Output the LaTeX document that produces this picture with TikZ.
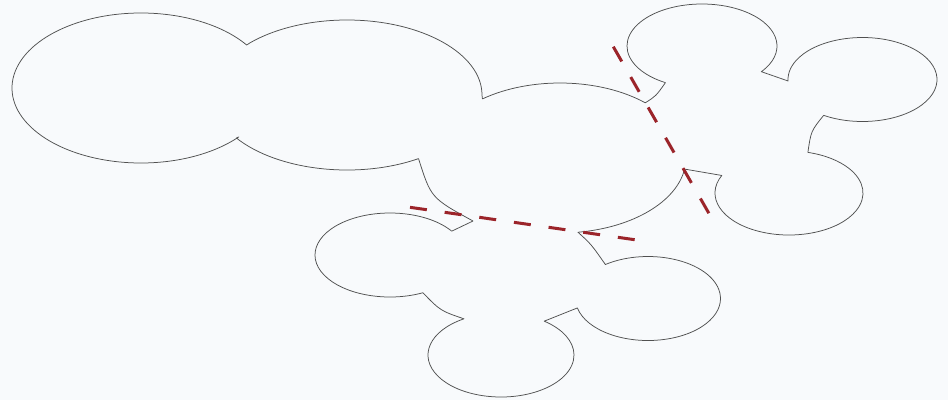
\documentclass[tikz,border=0pt]{standalone}
\usetikzlibrary{calc}
\definecolor{paper}{RGB}{248,250,252}
\definecolor{cutred}{RGB}{155,36,42}
\definecolor{rimgray}{RGB}{80,80,80}
\begin{document}
\begin{tikzpicture}[
        x=1pt, y=1pt,
        outline/.style={draw=rimgray, line width=0.75pt, line join=round},
        cutline/.style={draw=cutred, line width=3pt,
            dash pattern=on 17pt off 18pt}
      ]
      \fill[paper] (0,0) rectangle (948,-400);
      \useasboundingbox (0,0) rectangle (948,-400);
      % lobe centres
      \coordinate (bigleft) at (141,-88);
      \coordinate (bigmid) at (347,-95);
      \coordinate (core) at (560,-158);
      \coordinate (lowwest) at (390,-255);
      \coordinate (lowsouth) at (501,-355);
      \coordinate (loweast) at (648,-298.5);
      \coordinate (eastsouth) at (789,-193);
      \coordinate (easteast) at (862.5,-79.5);
      \coordinate (eastnorth) at (702,-46);
      % outline of the whole region
      \draw[outline] ($(bigleft)+(35:129 and 75)$)
        arc[start angle=35, end angle=319.3, x radius=129, y radius=75]
        -- ($(bigmid)+(215:135 and 75)$)
        arc[start angle=215, end angle=302, x radius=135, y radius=75]
        .. controls (431,-198) .. (473,-221)
        -- ($(lowwest)+(34.6:75 and 42)$)
        arc[start angle=34.6, end angle=296, x radius=75, y radius=42]
        .. controls (440.5,-310.8) .. ($(lowsouth)+(120.5:73 and 42)$)
        arc[start angle=120.5, end angle=413.7, x radius=73, y radius=42]
        -- ($(loweast)+(193:72.5 and 42)$)
        arc[start angle=193, end angle=486, x radius=72.5, y radius=42]
        .. controls (591,-244) .. ($(core)+(278.2:126 and 75)$)
        arc[start angle=278.2, end angle=351.5, x radius=126, y radius=75]
        -- ($(eastsouth)+(155.3:74 and 42)$)
        arc[start angle=155.3, end angle=435.2, x radius=74, y radius=42]
        .. controls (811,-131) .. ($(easteast)+(238.6:74.5 and 42)$)
        arc[start angle=238.6, end angle=542, x radius=74.5, y radius=42]
        -- ($(eastnorth)+(322.3:75 and 42)$)
        arc[start angle=322.3, end angle=600.8, x radius=75, y radius=42]
        .. controls (656,-96) .. ($(core)+(47.4:126 and 75)$)
        arc[start angle=47.4, end angle=128, x radius=126, y radius=75]
        -- ($(bigmid)+(0:135 and 75)$)
        arc[start angle=0, end angle=136, x radius=135, y radius=75]
        -- cycle;
      % cut lines
      \coordinate (cutwest) at (410,-207.3);
      \coordinate (cuteast) at (636.7,-240);
      \coordinate (cuttop) at (613.3,-46.7);
      \coordinate (cutbottom) at (709.3,-214);
      \draw[cutline] (cutwest) -- (cuteast);
      \draw[cutline] (cuttop) -- (cutbottom);
    \end{tikzpicture}
\end{document}
